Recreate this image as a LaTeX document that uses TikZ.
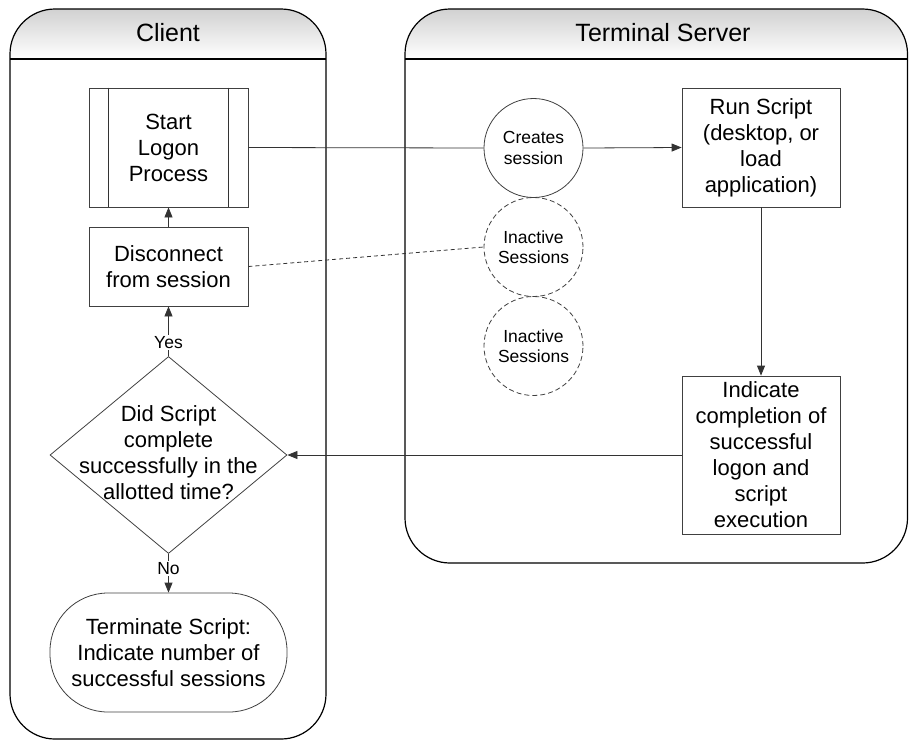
\documentclass[tikz,border=0pt]{standalone}
\usepackage{fontspec}
\setmainfont{Liberation Sans}
\usetikzlibrary{arrows.meta,shapes.geometric}
\begin{document}
\begin{tikzpicture}[x=1pt,y=-1pt,
 lane/.style={draw=black,line width=1.2pt},
 head/.style={font=\fontsize{25}{30}\selectfont},
 box/.style={draw=black!75,line width=0.8pt,rectangle,align=center,inner sep=0pt,font=\fontsize{22}{26}\selectfont},
 sess/.style={draw=black!75,line width=0.8pt,circle,minimum size=99pt,inner sep=0pt,align=center,font=\fontsize{17.5}{20.5}\selectfont},
 arr/.style={draw=black!80,line width=0.8pt,-{Triangle[length=10pt,width=8pt]}},
 conn/.style={draw=black!80,line width=0.8pt},
 lbl/.style={fill=white,inner sep=1.5pt,font=\fontsize{17.5}{20}\selectfont}]
\useasboundingbox (0,0) rectangle (909,740);

% Client lane
\begin{scope}
\clip[rounded corners=45pt] (10,9) rectangle (326,739);
\shade[top color=black!18,bottom color=white] (10,9) rectangle (326,59);
\end{scope}
\draw[lane,rounded corners=45pt] (10,9) rectangle (326,739);
\draw[lane] (10,59) -- (326,59);
\node[head] (clienthead) at (168,33) {Client};

% Terminal Server lane
\begin{scope}
\clip[rounded corners=45pt] (405,9) rectangle (907.5,563);
\shade[top color=black!18,bottom color=white] (405,9) rectangle (907.5,59);
\end{scope}
\draw[lane,rounded corners=45pt] (405,9) rectangle (907.5,563);
\draw[lane] (405,59) -- (907.5,59);
\node[head] (serverhead) at (663,33) {Terminal Server};

% Client nodes
\node[box,minimum width=159pt,minimum height=119pt] (start) at (168.5,147.5) {Start\\Logon\\Process};
\draw[conn] ([xshift=20pt]start.north west) -- ([xshift=20pt]start.south west);
\draw[conn] ([xshift=-20pt]start.north east) -- ([xshift=-20pt]start.south east);
\node[box,minimum width=159pt,minimum height=79pt] (disc) at (168.5,266.5) {Disconnect\\from session};
\node[box,diamond,minimum width=237pt,minimum height=197pt] (dec) at (168.5,455)
 {\makebox[0pt]{\begin{tabular}{@{}c@{}}Did Script\\complete\\successfully in the\\allotted time?\end{tabular}}};
\node[box,rounded corners=58pt,minimum width=237pt,minimum height=119pt] (term) at (168.5,652.5)
 {Terminate Script:\\Indicate number of\\successful sessions};

% Server nodes
\node[sess] (creates) at (533.5,148) {Creates\\session};
\node[sess,dash pattern=on 5pt off 3pt] (inact1) at (533.5,247) {Inactive\\Sessions};
\node[sess,dash pattern=on 5pt off 3pt] (inact2) at (533.5,346) {Inactive\\Sessions};
\node[box,minimum width=158pt,minimum height=119pt] (run) at (761,147.5) {Run Script\\(desktop, or\\load\\application)};
\node[box,minimum width=158pt,minimum height=158pt] (ind) at (761,455) {Indicate\\completion of\\successful\\logon and\\script\\execution};

% Connectors
\draw[conn] (start.east) -- (creates.west);
\draw[arr] (creates.east) -- (run.west);
\draw[arr] (run.south) -- (ind.north);
\draw[arr] (ind.west) -- (dec.east);
\draw[arr] (disc.north) -- (start.south);
\draw[conn,dash pattern=on 4pt off 3pt] (disc.east) -- (inact1.west);
\draw[arr] (dec.north) -- node[lbl,pos=0.28] {Yes} (disc.south);
\draw[arr] (dec.south) -- node[lbl,pos=0.37] {No} (term.north);
\end{tikzpicture}
\end{document}
